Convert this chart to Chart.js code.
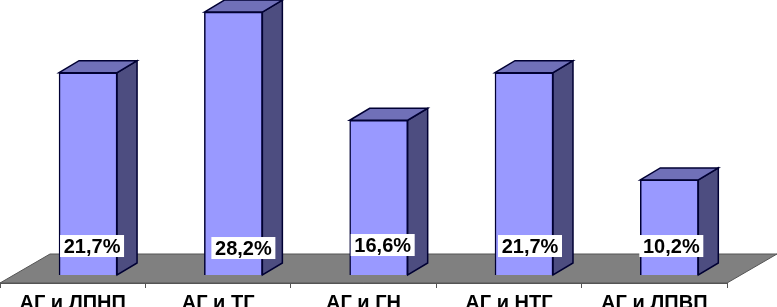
<!DOCTYPE html>
<html lang="ru">
<head>
<meta charset="UTF-8">
<title>АГ</title>
<style>
    html, body { margin: 0; padding: 0; background: #fff; overflow: hidden; width: 777px; height: 307px; }
    canvas { display: block; }
</style>
</head>
<body>
<canvas id="chart" width="777" height="330"></canvas>
<script src="https://cdn.jsdelivr.net/npm/chart.js"></script>
<script>
const categories = ['АГ и ЛПНП', 'АГ и ТГ', 'АГ и ГН', 'АГ и НТГ', 'АГ и ЛПВП'];
const values = [21.7, 28.2, 16.6, 21.7, 10.2];
const valueLabels = ['21,7%', '28,2%', '16,6%', '21,7%', '10,2%'];
const barIndex = [0, 1, 2, 3, 4];

// 3D look
const depthX = 20, depthY = 12;
const floorX = 50, floorY = 29;
const labelShiftX = [4, 10, 4, 6, 2];
const labelShiftY = [-1, 1, -2, -1, -1];

function poly(ctx, pts, fill, stroke, lw) {
    ctx.beginPath();
    pts.forEach((p, i) => i ? ctx.lineTo(p[0], p[1]) : ctx.moveTo(p[0], p[1]));
    ctx.closePath();
    ctx.fillStyle = fill;
    ctx.fill();
    ctx.strokeStyle = stroke;
    ctx.lineWidth = lw;
    ctx.stroke();
}

const fake3d = {
    id: 'fake3d',
    beforeDatasetsDraw(chart) {
        const ctx = chart.ctx, a = chart.chartArea;
        ctx.save();
        poly(ctx, [[a.left, a.bottom], [a.right, a.bottom], [a.right + floorX, a.bottom - floorY], [a.left + floorX, a.bottom - floorY]], '#808080', '#555', 1);
        chart.getDatasetMeta(0).data.forEach(bar => {
            const l = bar.x - bar.width / 2, r = bar.x + bar.width / 2, t = bar.y, b = bar.base;
            poly(ctx, [[r, t], [r + depthX, t - depthY], [r + depthX, b - depthY], [r, b]], '#4D4D80', '#000033', 1.5);
            poly(ctx, [[l, t], [l + depthX, t - depthY], [r + depthX, t - depthY], [r, t]], '#7070B8', '#000033', 1.5);
        });
        ctx.restore();
    },
    afterDatasetsDraw(chart) {
        const ctx = chart.ctx, yScale = chart.scales.y;
        ctx.save();
        ctx.font = 'bold 20px "Liberation Sans", Arial, sans-serif';
        ctx.textAlign = 'center';
        ctx.textBaseline = 'middle';
        chart.getDatasetMeta(0).data.forEach((bar, i) => {
            const cx = bar.x + labelShiftX[i];
            const cy = yScale.getPixelForValue(3) + labelShiftY[i];
            ctx.fillStyle = '#fff';
            ctx.fillRect(cx - 32, cy - 11, 64, 22);
            ctx.fillStyle = '#000';
            ctx.fillText(valueLabels[i], cx, cy + 1);
        });
        ctx.restore();
    }
};

new Chart(document.getElementById('chart'), {
    type: 'bar',
    data: {
        labels: categories,
        datasets: [{
            data: barIndex.map(i => ({ x: i, y: values[i] })),
            xAxisID: 'xBars',
            backgroundColor: '#9999FF',
            borderColor: '#000033',
            borderWidth: 1.5,
            barThickness: 58
        }]
    },
    options: {
        responsive: false,
        animation: false,
        layout: { padding: { left: 0, right: 50, top: 0, bottom: 0 } },
        plugins: { legend: { display: false }, tooltip: { enabled: false } },
        scales: {
            x: {
                type: 'category',
                position: 'bottom',
                labels: categories,
                offset: true,
                afterFit(scale) { scale.height = 47; },
                grid: { drawOnChartArea: false, tickLength: 5, color: '#555' },
                border: { color: '#555' },
                ticks: {
                    color: '#000',
                    maxRotation: 0,
                    autoSkip: false,
                    padding: 3,
                    font: { family: '"Liberation Sans", Arial, sans-serif', size: 20, weight: 'bold' }
                }
            },
            xBars: { type: 'linear', display: false, position: 'bottom', offset: false, min: -0.606, max: 4.397 },
            y: { display: false, min: -0.86, max: 29.5, grid: { display: false } }
        }
    },
    plugins: [fake3d]
});
</script>
</body>
</html>
